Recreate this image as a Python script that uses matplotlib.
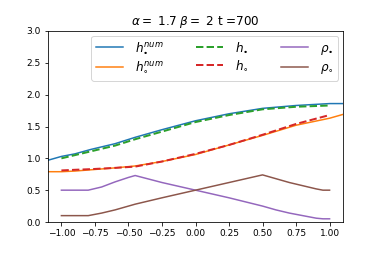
import matplotlib
matplotlib.use("Agg")
import matplotlib.pyplot as plt

alpha, beta, t = 1.7, 2, 700

x_num = [-1.1, -1.0, -0.9, -0.78, -0.6, -0.45, -0.25, 0.0, 0.25, 0.5, 0.75, 1.0, 1.1]
h_dot_num = [0.97, 1.03, 1.07, 1.14, 1.23, 1.33, 1.45, 1.59, 1.70, 1.785, 1.83, 1.86, 1.86]
h_circ_num = [0.79, 0.79, 0.80, 0.82, 0.85, 0.88, 0.95, 1.06, 1.21, 1.36, 1.52, 1.63, 1.69]

x_an = [-1.0, -0.9, -0.78, -0.6, -0.45, -0.25, 0.0, 0.25, 0.5, 0.75, 1.0]
h_dot = [1.00, 1.05, 1.11, 1.20, 1.30, 1.42, 1.57, 1.68, 1.77, 1.81, 1.83]
h_circ = [0.81, 0.82, 0.83, 0.85, 0.87, 0.95, 1.07, 1.21, 1.37, 1.54, 1.68]

x_rho = [-1.0, -0.9, -0.8, -0.7, -0.6, -0.5, -0.45, -0.25, 0.0, 0.25, 0.5, 0.6, 0.7, 0.8, 0.9, 0.95, 1.0]
rho_dot = [0.50, 0.50, 0.50, 0.55, 0.63, 0.70, 0.73, 0.62, 0.50, 0.38, 0.25, 0.19, 0.14, 0.10, 0.06, 0.05, 0.05]
rho_circ = [0.10, 0.10, 0.10, 0.14, 0.19, 0.25, 0.28, 0.38, 0.50, 0.62, 0.74, 0.68, 0.62, 0.57, 0.52, 0.50, 0.50]

DPI = 72
fig = plt.figure(figsize=(382/DPI, 254/DPI), dpi=DPI)
ax = fig.add_axes([48/382, 32/254, 295/382, 191/254])

ax.plot(x_num, h_dot_num, color="C0", lw=1.5, label=r"$h_{\bullet}^{num}$")
ax.plot(x_num, h_circ_num, color="C1", lw=1.5, label=r"$h_{\circ}^{num}$")
ax.plot(x_an, h_dot, color="C2", lw=2.0, ls="--", label=r"$h_{\bullet}$")
ax.plot(x_an, h_circ, color="C3", lw=2.0, ls="--", label=r"$h_{\circ}$")
ax.plot(x_rho, rho_dot, color="C4", lw=1.5, label=r"$\rho_{\bullet}$")
ax.plot(x_rho, rho_circ, color="C5", lw=1.5, label=r"$\rho_{\circ}$")

ax.set_xlim(-1.1, 1.1)
ax.set_ylim(0, 3.0)
ax.set_xticks([-1.0, -0.75, -0.5, -0.25, 0.0, 0.25, 0.5, 0.75, 1.0])
ax.tick_params(labelsize=9)
ax.set_title(r"$\alpha=$ " + f"{alpha}" + r" $\beta=$ " + f"{beta}" + f" t ={t}")
ax.legend(ncol=3, loc="upper right", fontsize=12, handlelength=2.2,
          handletextpad=1.0, columnspacing=2.75, labelspacing=0.35,
          borderaxespad=0.4)

fig.savefig("out.png", dpi=DPI)
